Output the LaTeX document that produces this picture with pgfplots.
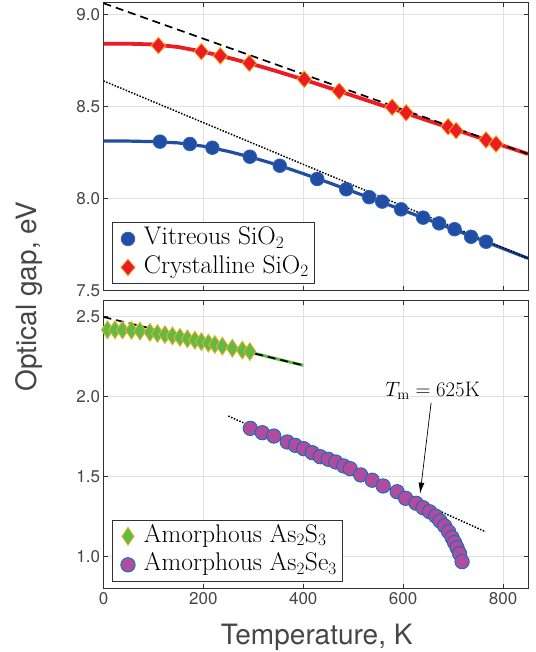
\documentclass[border=0pt]{standalone}
\usepackage{fontspec}
\usepackage{pgfplots}
\pgfplotsset{compat=1.18}
\usetikzlibrary{arrows.meta}
\newfontfamily\helv{TeX Gyre Heros}
\definecolor{vblue}{RGB}{33,78,163}
\definecolor{vedge}{RGB}{45,100,190}
\definecolor{cred}{RGB}{237,28,36}
\definecolor{medge}{RGB}{237,177,32}
\definecolor{agreen}{RGB}{98,186,70}
\definecolor{apurple}{RGB}{176,76,158}
\definecolor{pedge}{RGB}{0,114,189}
\definecolor{axcol}{RGB}{50,50,50}
\definecolor{txtcol}{RGB}{70,70,70}
\pgfplotsset{
  myaxis/.style={
    scale only axis, width=424.5pt, height=288pt,
    xmin=0, xmax=850, xtick={0,200,400,600,800},
    axis line style={axcol, line width=0.6pt},
    tick style={axcol, line width=0.6pt},
    major tick length=4.5pt,
    tick align=inside,
    grid=major,
    major grid style={line width=0.5pt, black!12},
    ticklabel style={font=\helv\fontsize{17}{20}\selectfont, text=txtcol},
    /pgf/number format/assume math mode=true,
    yticklabel style={/pgf/number format/.cd, fixed, fixed zerofill, precision=1},
    legend cell align=left,
  },
  mleg/.style={legend image code/.code={\path[draw=none,fill=none] (0pt,-0.1pt) rectangle (26pt,0.1pt); \draw[mark repeat=2,mark phase=2,##1] plot coordinates {(0pt,0pt)(13pt,0pt)(26pt,0pt)};}},
  mylegend/.style={
    legend style={at={(0.0193,#1)}, anchor=south west, draw=axcol, line width=0.6pt,
      font=\fontsize{25.5}{30}\selectfont, text=black, fill=white,
      inner xsep=3pt, inner ysep=2pt, row sep=0pt,
      nodes={text height=17.5pt, text depth=6pt, inner ysep=2.5pt, inner xsep=3pt}},
  },
}
\begin{document}
\begin{tikzpicture}[x=1pt,y=1pt]
\useasboundingbox (0,0) rectangle (535,652);
% ---------------- top axis ----------------
\begin{axis}[myaxis, at={(103.5pt,361.3pt)}, anchor=south west,
  ymin=7.5, ymax=9.065, ytick={7.5,8.0,8.5,9.0}, xticklabels={},
  mylegend=0.0233]
% fitted curves
\addplot[forget plot, cred, line width=3.8pt] coordinates {
 (0,8.842) (50,8.842) (100,8.838) (150,8.824) (200,8.798) (250,8.766) (300,8.730)
 (350,8.690) (400,8.648) (450,8.604) (500,8.559) (550,8.514) (600,8.469) (650,8.424)
 (700,8.379) (750,8.334) (800,8.288) (850,8.243)};
\addplot[forget plot, vblue, line width=3.2pt] coordinates {
 (0,8.313) (50,8.313) (100,8.310) (150,8.303) (200,8.285) (250,8.257) (300,8.222)
 (350,8.182) (400,8.136) (450,8.088) (500,8.038) (550,7.988) (600,7.937) (650,7.886)
 (700,7.834) (750,7.782) (800,7.729) (850,7.676)};
% data
\addplot[only marks, mleg, mark=*, mark size=6.8pt, mark options={fill=vblue, draw=vedge, line width=0.8pt}] coordinates {
 (113,8.310) (173,8.297) (218,8.277) (293,8.228) (353,8.179) (428,8.107) (486,8.051)
 (532,8.008) (558,7.984) (596,7.942) (640,7.897) (672,7.866) (703,7.834) (736,7.793) (766,7.766)};
\addlegendentry{Vitreous SiO$_2$}
\addplot[only marks, mleg, mark=diamond*, mark size=8.3pt, mark options={xscale=1.15, fill=cred, draw=medge, line width=0.8pt}] coordinates {
 (110,8.832) (196,8.799) (234,8.776) (292,8.736) (402,8.649) (472,8.584) (578,8.497)
 (606,8.467) (690,8.391) (706,8.370) (766,8.319) (786,8.297)};
\addlegendentry{Crystalline SiO$_2$}
% asymptotes
\addplot[forget plot, black, line width=1.7pt, dash pattern=on 8pt off 5pt] coordinates {(0,9.062) (850,8.243)};
\addplot[forget plot, black, line width=1.5pt, dash pattern=on 1.5pt off 1.5pt] coordinates {(0,8.640) (850,7.676)};
\end{axis}
% ---------------- bottom axis ----------------
\begin{axis}[myaxis, at={(103.5pt,63.3pt)}, anchor=south west,
  ymin=0.8, ymax=2.6, ytick={1.0,1.5,2.0,2.5},
  mylegend=0.0255]
\addplot[forget plot, agreen, line width=3pt] coordinates {
 (0,2.418) (50,2.416) (100,2.399) (150,2.373) (200,2.342) (250,2.309) (300,2.273) (350,2.234) (400,2.196)};
\addplot[only marks, mleg, mark=diamond*, mark size=9pt, mark options={xscale=0.9, fill=agreen, draw=medge, line width=0.8pt}] coordinates {
 (8,2.418) (23,2.418) (38,2.417) (56,2.415) (73,2.410) (93,2.402) (108,2.395) (123,2.388)
 (138,2.380) (153,2.371) (168,2.362) (183,2.353) (196,2.344) (210,2.335) (223,2.326)
 (238,2.316) (258,2.303) (278,2.291) (293,2.282)};
\addlegendentry{Amorphous As$_2$S$_3$}
\addplot[only marks, mleg, mark=*, mark size=7.2pt, mark options={fill=apurple, draw=pedge, line width=0.8pt}] coordinates {
 (294,1.802) (318,1.775) (341,1.754) (368,1.717) (384,1.696) (401,1.675) (418,1.650)
 (434,1.625) (450,1.609) (465,1.592) (481,1.567) (494,1.550) (515,1.511) (538,1.478)
 (560,1.442) (588,1.406) (605,1.365) (626,1.334) (640,1.306) (653,1.281) (665,1.254)
 (674,1.223) (683,1.192) (691,1.156) (698,1.119) (703,1.088) (708,1.056) (713,1.019) (718,0.969)};
\addlegendentry{Amorphous As$_2$Se$_3$}
\addplot[forget plot, black, line width=1.7pt, dash pattern=on 8pt off 5pt] coordinates {(0,2.498) (400,2.196)};
\addplot[forget plot, black, line width=1.5pt, dash pattern=on 1.5pt off 1.5pt] coordinates {(250,1.879) (765,1.156)};
\draw[-{Latex[length=11pt,width=6pt]}, line width=0.7pt] (axis cs:656,1.9625) -- (axis cs:634,1.394);
\node[font=\fontsize{21}{24}\selectfont] at (axis cs:659,2.036) {$T_\mathrm{m} = 625$K};
\end{axis}
\node[font=\helv\fontsize{28}{32}\selectfont, text=txtcol, anchor=base] at (316.7,7) {Temperature, K};
\node[font=\helv\fontsize{28}{32}\selectfont, text=txtcol, anchor=base, rotate=90] at (36,355.5) {Optical gap, eV};
\end{tikzpicture}
\end{document}
